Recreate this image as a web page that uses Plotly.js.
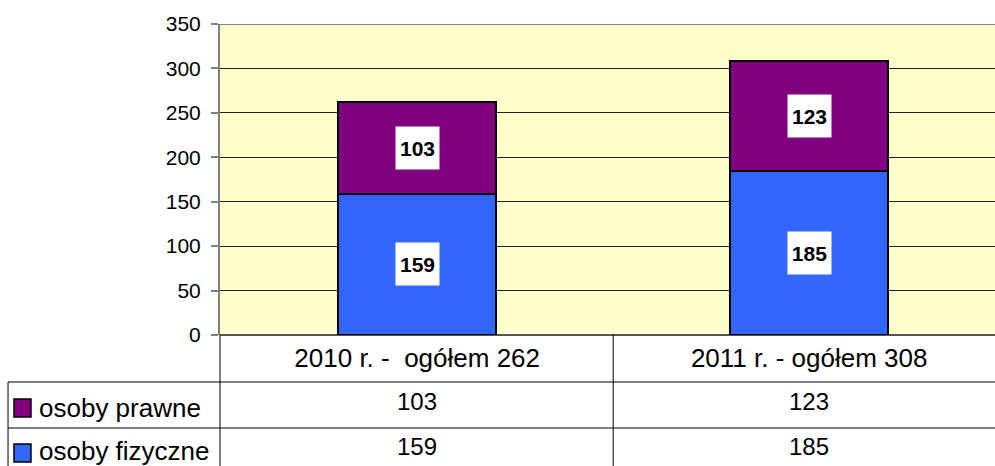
<!DOCTYPE html>
<html>
<head>
<meta charset="utf-8">
<script src="https://cdn.plot.ly/plotly-3.0.1.min.js"></script>
<style>html,body{margin:0;padding:0;background:#fff;}</style>
</head>
<body>
<div id="chart" style="width:995px;height:466px;"></div>
<script>
const categories = ["2010 r. -\u00a0 ogółem 262", "2011 r. - ogółem 308"];
const seriesNames = ["osoby fizyczne", "osoby prawne"];
const fizyczne = [159, 185];
const prawne = [103, 123];
const yTicks = [0, 50, 100, 150, 200, 250, 300, 350];
const colors = ["#3366FF", "#800080"];

const FONT = "Liberation Sans, Arial, sans-serif";

const traces = [
  {type: "bar", name: seriesNames[0], x: categories, y: fizyczne,
   marker: {color: colors[0], line: {color: "#000", width: 2}}, hoverinfo: "none"},
  {type: "bar", name: seriesNames[1], x: categories, y: prawne,
   marker: {color: colors[1], line: {color: "#000", width: 2}}, hoverinfo: "none"}
];

const annotations = [];
categories.forEach((c, i) => {
  annotations.push({x: c, y: fizyczne[i] / 2, xref: "x", yref: "y", text: String(fizyczne[i]),
    showarrow: false, bgcolor: "#fff", width: 41, height: 40, borderpad: 1,
    font: {family: FONT, size: 21, color: "#000", weight: "bold"}});
  annotations.push({x: c, y: fizyczne[i] + prawne[i] / 2, xref: "x", yref: "y", text: String(prawne[i]),
    showarrow: false, bgcolor: "#fff", width: 41, height: 40, borderpad: 1,
    font: {family: FONT, size: 21, color: "#000", weight: "bold"}});
  annotations.push({x: c, xref: "x", yref: "paper", y: -0.2154, yanchor: "middle", text: String(prawne[i]),
    showarrow: false, font: {family: FONT, size: 24, color: "#000"}});
  annotations.push({x: c, xref: "x", yref: "paper", y: -0.36, yanchor: "middle", text: String(fizyczne[i]),
    showarrow: false, font: {family: FONT, size: 24, color: "#000"}});
});
// legend-like row headers
annotations.push({xref: "paper", yref: "paper", x: -0.2355, y: -0.236, xanchor: "left", yanchor: "middle",
  text: seriesNames[1], showarrow: false, font: {family: FONT, size: 26, color: "#000"}});
annotations.push({xref: "paper", yref: "paper", x: -0.2355, y: -0.374, xanchor: "left", yanchor: "middle",
  text: seriesNames[0], showarrow: false, font: {family: FONT, size: 26, color: "#000"}});

const shapes = [
  // top border
  {type: "line", xref: "paper", yref: "y", x0: 0, x1: 1, y0: 350, y1: 350, line: {color: "#808080", width: 2}},
  // table horizontal lines
  {type: "line", xref: "paper", yref: "paper", x0: -0.2735, x1: 0, y0: -0.1511, y1: -0.1511, line: {color: "#000", width: 1}},
  {type: "line", xref: "paper", yref: "paper", x0: 0, x1: 1, y0: -0.1511, y1: -0.1511, line: {color: "#808080", width: 2}},
  {type: "line", xref: "paper", yref: "paper", x0: -0.2735, x1: 1, y0: -0.299, y1: -0.299, line: {color: "#000", width: 1}},
  // table vertical lines
  {type: "line", xref: "paper", yref: "paper", x0: -0.2735, x1: -0.2735, y0: -0.1511, y1: -0.43, line: {color: "#000", width: 1}},
  {type: "line", xref: "paper", yref: "paper", x0: 0, x1: 0, y0: 0, y1: -0.43, line: {color: "#000", width: 1}},
  {type: "line", xref: "x", yref: "paper", x0: 0.5, x1: 0.5, y0: 0, y1: -0.43, line: {color: "#000", width: 1}},
  // legend keys
  {type: "rect", xref: "paper", yref: "paper", x0: -0.2658, x1: -0.2439, y0: -0.2058, y1: -0.2637,
   fillcolor: colors[1], line: {color: "#000", width: 1.5}},
  {type: "rect", xref: "paper", yref: "paper", x0: -0.2658, x1: -0.2439, y0: -0.3505, y1: -0.4084,
   fillcolor: colors[0], line: {color: "#000", width: 1.5}}
];

const layout = {
  width: 995, height: 466,
  margin: {l: 220, r: 0, t: 24, b: 131, pad: 0},
  paper_bgcolor: "#fff",
  plot_bgcolor: "#FFFFCC",
  barmode: "stack",
  bargap: 0.597,
  showlegend: false,
  xaxis: {
    type: "category",
    range: [-0.503, 1.474],
    showgrid: false,
    ticks: "",
    tickfont: {family: FONT, size: 26, color: "#000"},
    ticklabelstandoff: 5,
    showline: false,
    zeroline: false
  },
  yaxis: {
    range: [0, 350],
    tickvals: yTicks,
    ticktext: yTicks.map(String),
    showgrid: true,
    gridcolor: "#222",
    gridwidth: 1,
    zeroline: true,
    zerolinecolor: "#555",
    zerolinewidth: 2,
    showline: true,
    linecolor: "#808080",
    linewidth: 2,
    ticks: "outside",
    ticklen: 7,
    tickcolor: "#808080",
    tickwidth: 2,
    ticklabelstandoff: 6,
    tickfont: {family: FONT, size: 21, color: "#000"}
  },
  annotations: annotations,
  shapes: shapes
};

Plotly.newPlot("chart", traces, layout, {staticPlot: true, displayModeBar: false});
</script>
</body>
</html>
